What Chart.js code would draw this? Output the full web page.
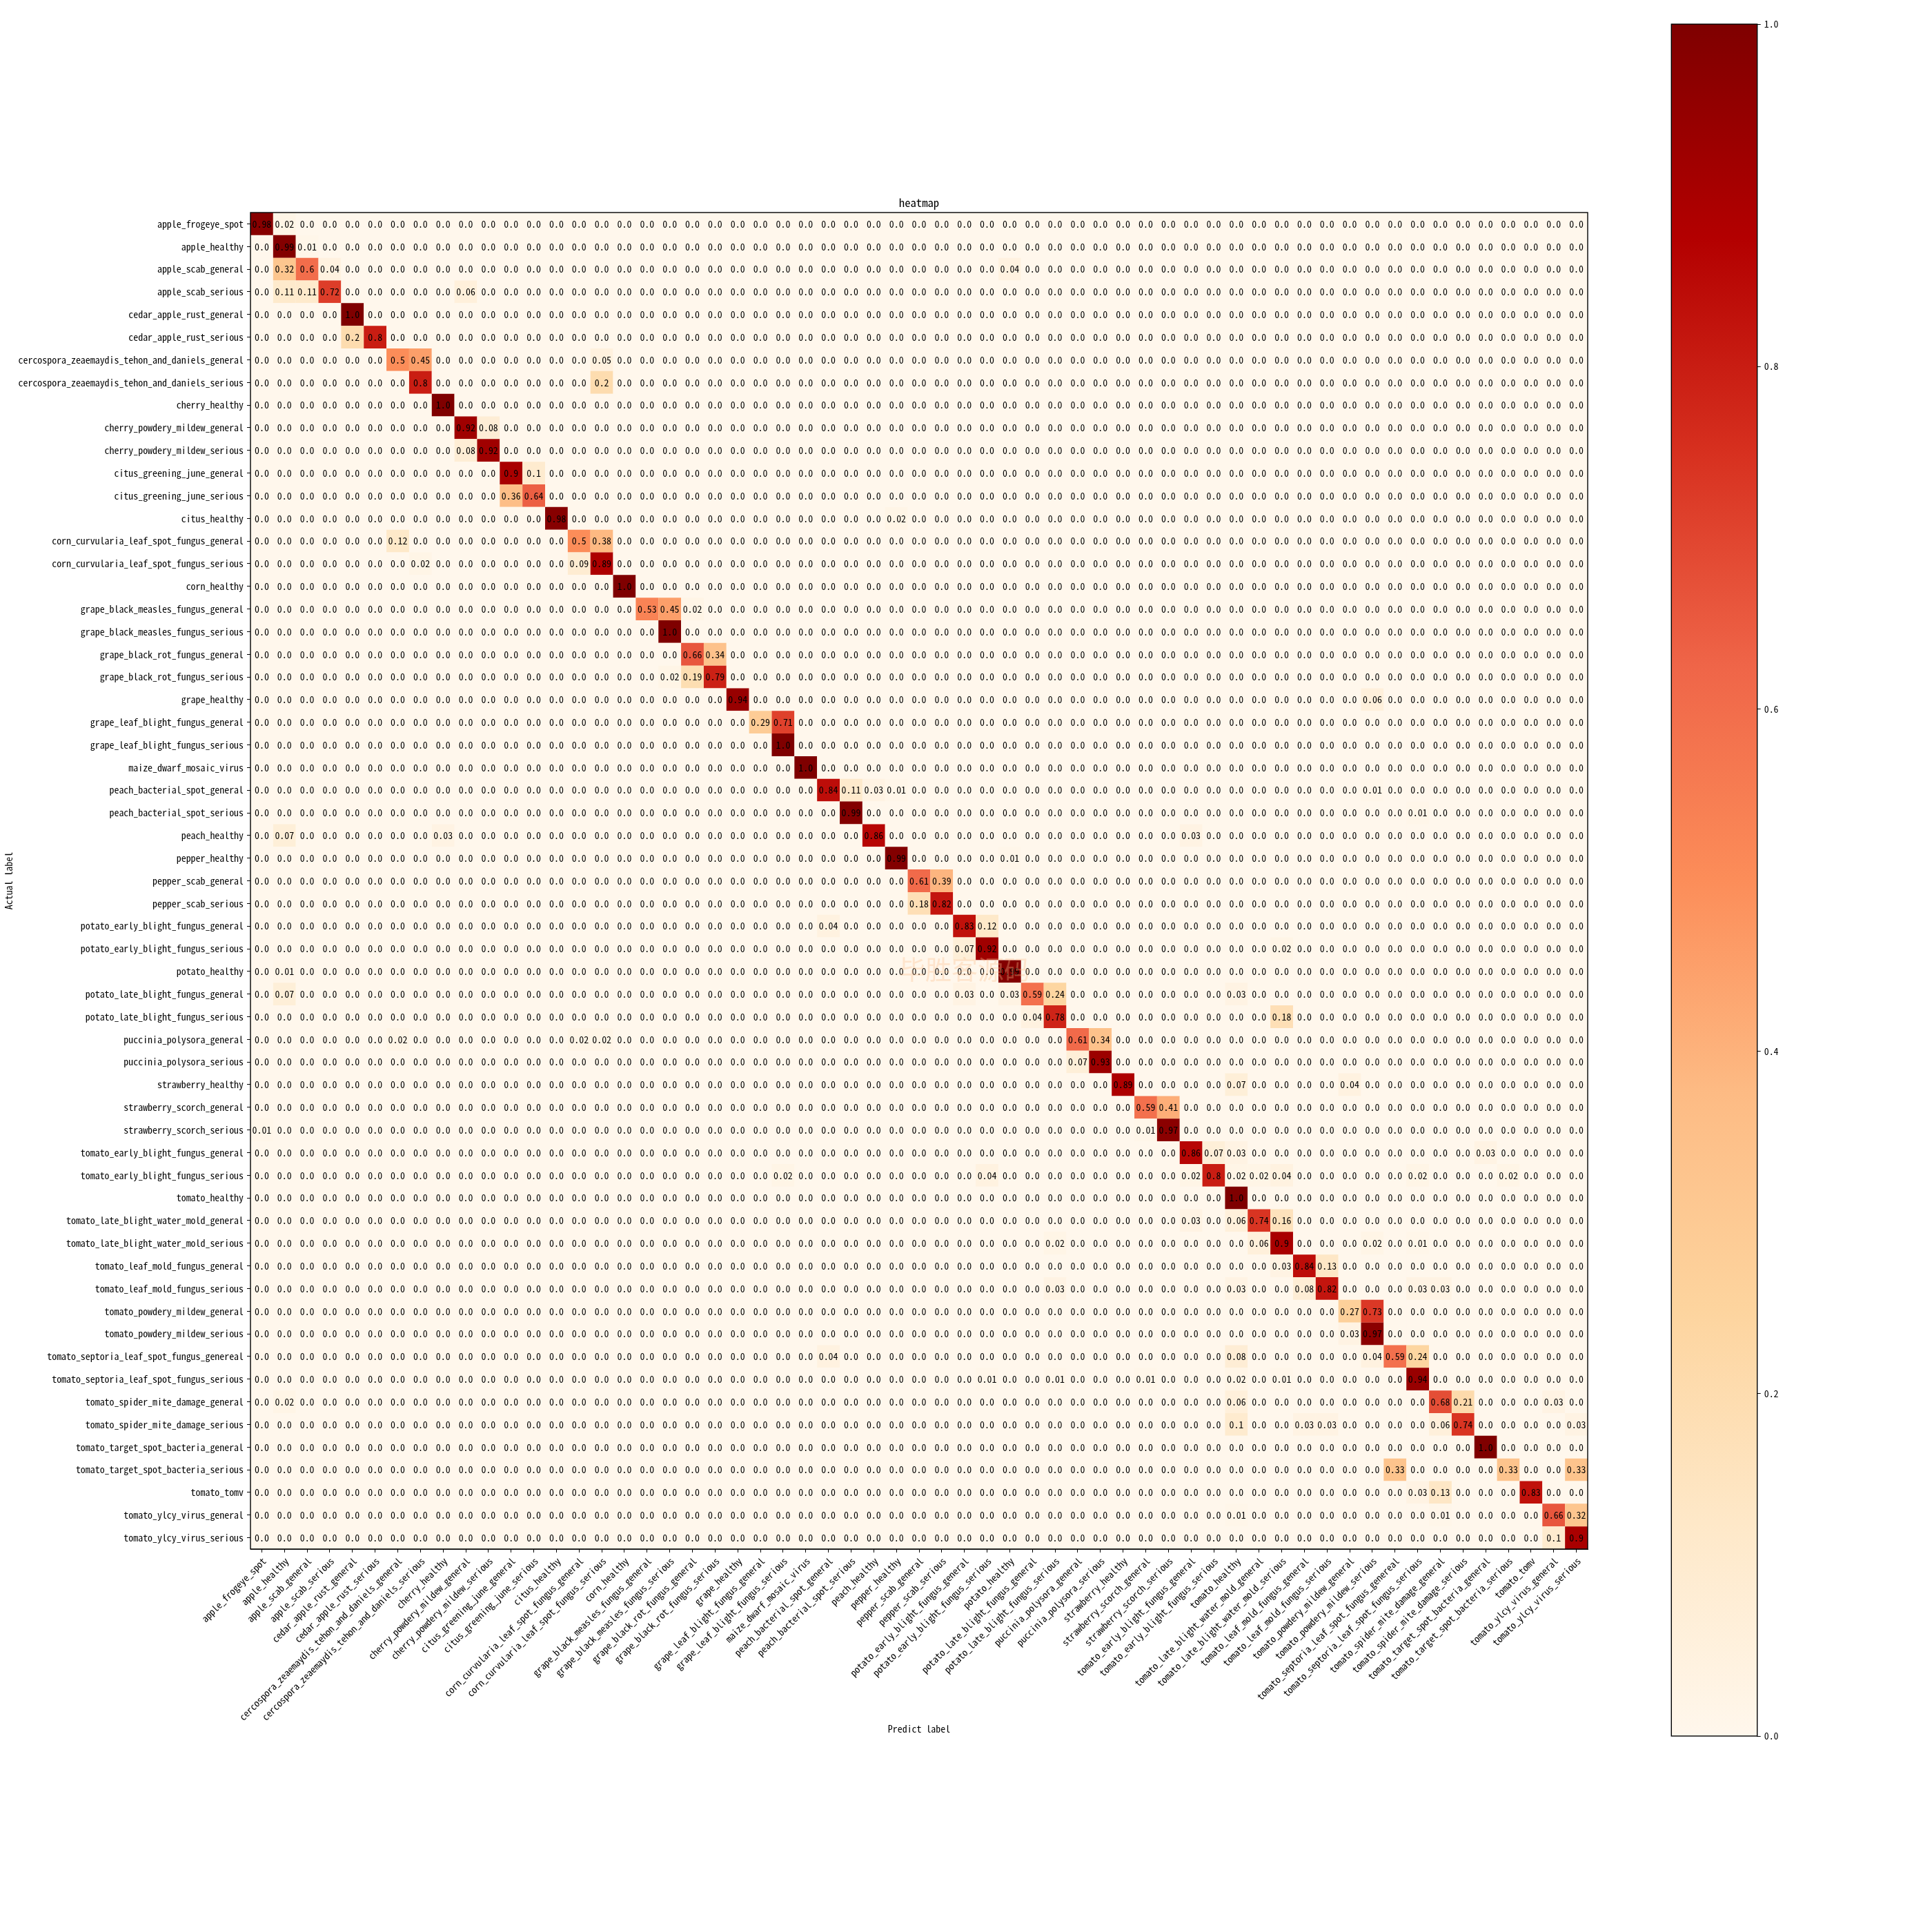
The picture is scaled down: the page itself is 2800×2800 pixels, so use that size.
<!DOCTYPE html>
<html>
<head>
<meta charset="utf-8">
<title>heatmap</title>
<style>
html,body{margin:0;padding:0;background:#fff;}
#wrap{position:relative;width:2800px;height:2800px;overflow:hidden;}
canvas{position:absolute;}
</style>
<script src="https://cdn.jsdelivr.net/npm/chart.js@4/dist/chart.umd.min.js"></script>
</head>
<body>
<div id="wrap">
<canvas id="heat" width="2800" height="2800" style="left:0;top:0"></canvas>
<canvas id="bar" width="400" height="2800" style="left:2400px;top:0"></canvas>
</div>
<script>
const categories = [
"apple_frogeye_spot","apple_healthy","apple_scab_general","apple_scab_serious",
"cedar_apple_rust_general","cedar_apple_rust_serious",
"cercospora_zeaemaydis_tehon_and_daniels_general","cercospora_zeaemaydis_tehon_and_daniels_serious",
"cherry_healthy","cherry_powdery_mildew_general","cherry_powdery_mildew_serious",
"citus_greening_june_general","citus_greening_june_serious","citus_healthy",
"corn_curvularia_leaf_spot_fungus_general","corn_curvularia_leaf_spot_fungus_serious","corn_healthy",
"grape_black_measles_fungus_general","grape_black_measles_fungus_serious",
"grape_black_rot_fungus_general","grape_black_rot_fungus_serious","grape_healthy",
"grape_leaf_blight_fungus_general","grape_leaf_blight_fungus_serious","maize_dwarf_mosaic_virus",
"peach_bacterial_spot_general","peach_bacterial_spot_serious","peach_healthy","pepper_healthy",
"pepper_scab_general","pepper_scab_serious",
"potato_early_blight_fungus_general","potato_early_blight_fungus_serious","potato_healthy",
"potato_late_blight_fungus_general","potato_late_blight_fungus_serious",
"puccinia_polysora_general","puccinia_polysora_serious","strawberry_healthy",
"strawberry_scorch_general","strawberry_scorch_serious",
"tomato_early_blight_fungus_general","tomato_early_blight_fungus_serious","tomato_healthy",
"tomato_late_blight_water_mold_general","tomato_late_blight_water_mold_serious",
"tomato_leaf_mold_fungus_general","tomato_leaf_mold_fungus_serious",
"tomato_powdery_mildew_general","tomato_powdery_mildew_serious",
"tomato_septoria_leaf_spot_fungus_genereal","tomato_septoria_leaf_spot_fungus_serious",
"tomato_spider_mite_damage_general","tomato_spider_mite_damage_serious",
"tomato_target_spot_bacteria_general","tomato_target_spot_bacteria_serious",
"tomato_tomv","tomato_ylcy_virus_general","tomato_ylcy_virus_serious"
];
// Non-zero cells only, one entry per actual label (1-based predicted column numbers).
const nonZeroColumns = [
[1,2],[2,3],[2,3,4,34],[2,3,4,10],[5],[5,6],[7,8,16],[8,16],[9],[10,11],
[10,11],[12,13],[12,13],[14,29],[7,15,16],[8,15,16],[17],[18,19,20],[19],[20,21],
[19,20,21],[22,50],[23,24],[24],[25],[26,27,28,29,50],[27,52],[2,9,28,42],[29,34],[30,31],
[30,31],[26,32,33],[32,33,46],[2,34],[2,32,34,35,36,44],[35,36,46],[7,15,16,37,38],[37,38],[39,44,49],[40,41],
[1,40,41],[42,43,44,55],[24,33,42,43,44,45,46,52,56],[44],[42,44,45,46],[36,45,46,50,52],[46,47,48],[36,44,47,48,52,53],[49,50],[49,50],
[26,44,50,51,52],[33,36,40,44,46,52],[2,44,53,54,58],[44,47,48,53,54,59],[55],[51,56,59],[52,53,57],[44,53,58,59],[58,59]
];
const nonZeroValues = [
[0.98,0.02],[0.99,0.01],[0.32,0.6,0.04,0.04],[0.11,0.11,0.72,0.06],[1.0],[0.2,0.8],[0.5,0.45,0.05],[0.8,0.2],[1.0],[0.92,0.08],
[0.08,0.92],[0.9,0.1],[0.36,0.64],[0.98,0.02],[0.12,0.5,0.38],[0.02,0.09,0.89],[1.0],[0.53,0.45,0.02],[1.0],[0.66,0.34],
[0.02,0.19,0.79],[0.94,0.06],[0.29,0.71],[1.0],[1.0],[0.84,0.11,0.03,0.01,0.01],[0.99,0.01],[0.07,0.03,0.86,0.03],[0.99,0.01],[0.61,0.39],
[0.18,0.82],[0.04,0.83,0.12],[0.07,0.92,0.02],[0.01,0.99],[0.07,0.03,0.03,0.59,0.24,0.03],[0.04,0.78,0.18],[0.02,0.02,0.02,0.61,0.34],[0.07,0.93],[0.89,0.07,0.04],[0.59,0.41],
[0.01,0.01,0.97],[0.86,0.07,0.03,0.03],[0.02,0.04,0.02,0.8,0.02,0.02,0.04,0.02,0.02],[1.0],[0.03,0.06,0.74,0.16],[0.02,0.06,0.9,0.02,0.01],[0.03,0.84,0.13],[0.03,0.03,0.08,0.82,0.03,0.03],[0.27,0.73],[0.03,0.97],
[0.04,0.08,0.04,0.59,0.24],[0.01,0.01,0.01,0.02,0.01,0.94],[0.02,0.06,0.68,0.21,0.03],[0.1,0.03,0.03,0.06,0.74,0.03],[1.0],[0.33,0.33,0.33],[0.03,0.13,0.83],[0.01,0.01,0.66,0.32],[0.1,0.9]
];
const colorbarTicks = [0,0.2,0.4,0.6,0.8,1.0];
const orRdStops = ["#fff7ec","#fee8c8","#fdd49e","#fdbb84","#fc8d59","#ef6548","#d7301f","#b30000","#7f0000"];

const MONO = '"Noto Sans Mono CJK SC","DejaVu Sans Mono",monospace';
const FONT_SIZE = 13.9;

function hexRgb(h){return [1,3,5].map(i=>parseInt(h.substr(i,2),16));}
function orRd(v){
  const p=Math.max(0,Math.min(1,v))*(orRdStops.length-1),i=Math.min(Math.floor(p),orRdStops.length-2),t=p-i;
  const a=hexRgb(orRdStops[i]),b=hexRgb(orRdStops[i+1]);
  return 'rgb('+a.map((c,k)=>Math.round(c+(b[k]-c)*t)).join(',')+')';
}
const cells=[];
categories.forEach((actual,r)=>{
  categories.forEach((pred,c)=>{
    const k=nonZeroColumns[r].indexOf(c+1);
    cells.push({x:pred,y:actual,v:k<0?0:nonZeroValues[r][k]});
  });
});
function fmt(v){return v===0?'0.0':(v===1?'1.0':String(v));}

const heatPlugin={
  id:'heatExtras',
  beforeDatasetsDraw(chart){
    const a=chart.chartArea,c=chart.ctx;
    c.save();c.fillStyle=orRd(0);c.fillRect(a.left,a.top,a.width,a.height);c.restore();
  },
  afterDatasetsDraw(chart){
    const c=chart.ctx,sx=chart.scales.x,sy=chart.scales.y,a=chart.chartArea;
    c.save();
    c.font=FONT_SIZE+'px '+MONO;c.fillStyle='#000';c.textAlign='center';c.textBaseline='middle';
    cells.forEach(d=>{c.fillText(fmt(d.v),sx.getPixelForValue(d.x),sy.getPixelForValue(d.y));});
    c.strokeStyle='#000';c.lineWidth=1.4;c.strokeRect(a.left,a.top,a.width,a.height);
    c.font='38px "Noto Sans CJK SC"';c.fillStyle='rgba(252,190,140,0.33)';c.textAlign='left';
    c.fillText('毕胜客源码',1303,1405);
    c.restore();
  }
};
const tickFont={family:MONO,size:FONT_SIZE};
const axisGrid={display:true,drawOnChartArea:false,drawTicks:true,tickLength:5,tickColor:'#000',tickWidth:1};
new Chart(document.getElementById('heat'),{
  type:'scatter',
  data:{datasets:[{
    data:cells,
    pointStyle:'rect',
    pointBorderWidth:0,
    pointBorderColor:'rgba(0,0,0,0)',
    pointRadius:ctx=>ctx.chart.scales.x.width/categories.length/Math.SQRT2,
    pointBackgroundColor:ctx=>orRd(ctx.raw?ctx.raw.v:0)
  }]},
  options:{
    responsive:false,animation:false,devicePixelRatio:1,
    layout:{padding:{left:0,top:0,right:499,bottom:0}},
    plugins:{
      legend:{display:false},tooltip:{enabled:false},
      title:{display:true,text:'heatmap',fullSize:false,color:'#000',font:{family:MONO,size:16.7,weight:'normal'},padding:{top:284,bottom:4}}
    },
    scales:{
      x:{type:'category',labels:categories,offset:true,position:'bottom',
        grid:axisGrid,border:{color:'#000',width:1},
        ticks:{autoSkip:false,minRotation:45,maxRotation:45,color:'#000',font:tickFont,padding:4,labelOffset:3.5},
        title:{display:true,text:'Predict label',color:'#000',font:{family:MONO,size:FONT_SIZE},padding:{top:0,bottom:286}},
        afterFit(s){s.height=555;}
      },
      y:{type:'category',labels:categories,offset:true,position:'left',
        grid:axisGrid,border:{color:'#000',width:1},
        ticks:{autoSkip:false,color:'#000',font:tickFont,padding:5},
        title:{display:true,text:'Actual label',color:'#000',font:{family:MONO,size:FONT_SIZE},padding:{top:4,bottom:0}},
        afterFit(s){s.width=363;}
      }
    }
  },
  plugins:[heatPlugin]
});

new Chart(document.getElementById('bar'),{
  type:'bar',
  data:{labels:['colorbar'],datasets:[{
    data:[1],
    barPercentage:1,categoryPercentage:1,borderWidth:0,
    backgroundColor(ctx){
      const a=ctx.chart.chartArea;
      if(!a)return orRd(0.5);
      const g=ctx.chart.ctx.createLinearGradient(0,a.bottom,0,a.top);
      orRdStops.forEach((s,i)=>g.addColorStop(i/(orRdStops.length-1),s));
      return g;
    }
  }]},
  options:{
    responsive:false,animation:false,devicePixelRatio:1,
    layout:{padding:{left:22.3,top:35,right:0,bottom:284}},
    plugins:{legend:{display:false},tooltip:{enabled:false}},
    scales:{
      x:{display:false},
      y:{position:'right',min:0,max:1,
        grid:axisGrid,border:{color:'#000',width:1},
        afterBuildTicks(s){s.ticks=colorbarTicks.map(v=>({value:v}));},
        ticks:{color:'#000',font:tickFont,padding:5,callback:v=>Number(v).toFixed(1)},
        afterFit(s){s.width=253.3;}
      }
    }
  },
  plugins:[{id:'cbFrame',afterDatasetsDraw(chart){
    const a=chart.chartArea,c=chart.ctx;
    c.save();c.strokeStyle='#000';c.lineWidth=1.4;c.strokeRect(a.left,a.top,a.width,a.height);c.restore();
  }}]
});
</script>
</body>
</html>
